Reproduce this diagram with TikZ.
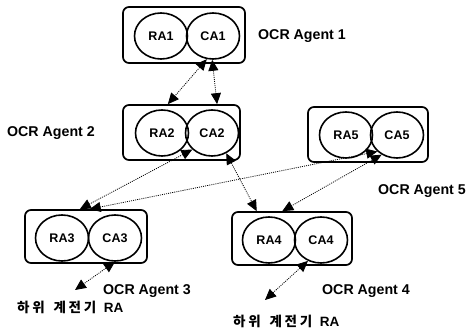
\documentclass[tikz,border=0pt]{standalone}
\usepackage{fontspec}
\setmainfont{Liberation Sans}
\newfontfamily\kofont[LetterSpace=20]{Noto Sans CJK KR}
\usetikzlibrary{arrows.meta,shapes.geometric,calc}

\tikzset{
  agentbox/.style={draw, line width=1.7pt, rounded corners=6pt, inner sep=0pt},
  agentpart/.style={draw, ellipse, line width=1.6pt, minimum width=53pt,
    minimum height=46pt, inner sep=0pt, font=\bfseries\fontsize{12.5}{15}\selectfont},
  agentlabel/.style={anchor=base west, inner sep=0pt, font=\bfseries\fontsize{14.2}{16}\selectfont},
  lowerlabel/.style={anchor=base west, inner sep=0pt, font=\bfseries\fontsize{13.5}{15}\selectfont},
  msglink/.style={line width=0.8pt, dash pattern=on 1pt off 1.1pt,
    {Triangle[length=11pt,width=10pt]}-{Triangle[length=11pt,width=10pt]}}
}

\begin{document}
\begin{tikzpicture}[x=1pt, y=-1pt]
\useasboundingbox (0,0) rectangle (467,334);

% agent frames
\node[agentbox, minimum width=122pt, minimum height=56pt] (box1) at (184,35) {};
\node[agentbox, minimum width=117pt, minimum height=55pt] (box2) at (181.5,132.5) {};
\node[agentbox, minimum width=120pt, minimum height=55pt] (box5) at (368,134.5) {};
\node[agentbox, minimum width=122pt, minimum height=53pt] (box3) at (86,236.5) {};
\node[agentbox, minimum width=120pt, minimum height=53pt] (box4) at (292,238.5) {};

% RA / CA components
\node[agentpart] (RA1) at (161,36) {RA1};
\node[agentpart] (CA1) at (213,36) {CA1};
\node[agentpart] (RA2) at (162,133) {RA2};
\node[agentpart] (CA2) at (212,133) {CA2};
\node[agentpart] (RA5) at (346,135) {RA5};
\node[agentpart] (CA5) at (397,135) {CA5};
\node[agentpart] (RA3) at (62,238) {RA3};
\node[agentpart] (CA3) at (115,238) {CA3};
\node[agentpart] (RA4) at (269,240) {RA4};
\node[agentpart] (CA4) at (321,240) {CA4};

% agent names
\node[agentlabel] (lab1) at (258,40) {OCR Agent 1};
\node[agentlabel] (lab2) at (7,137) {OCR Agent 2};
\node[agentlabel] (lab5) at (378,195) {OCR Agent 5};
\node[agentlabel] (lab3) at (103,295) {OCR Agent 3};
\node[agentlabel] (lab4) at (322,295) {OCR Agent 4};
\node[lowerlabel] (sub3) at (17,313) {{\kofont 하위\hspace{3pt} 계전기}\hspace{4pt} RA};
\node[lowerlabel] (sub4) at (233,327) {{\kofont 하위\hspace{3pt} 계전기}\hspace{4pt} RA};

% free ends towards the lower-level relay agents
\coordinate (low3) at (75,290);
\coordinate (low4) at (265,300);

% message links
\draw[msglink] (CA1.-105) -- ($(box2.north west)!0.385!(box2.north east)$);
\draw[msglink] (CA1.-92) -- ($(box2.north west)!0.80!(box2.north east)$);
\draw[msglink] (CA2.-140) -- ($(box3.north west)!0.45!(box3.north east)$);
\draw[msglink] (CA2.-55) -- ($(box4.north west)!0.21!(box4.north east)$);
\draw[msglink] (CA5.-140) -- ($(box3.north west)!0.53!(box3.north east)$);
\draw[msglink] (CA5.-128) -- ($(box4.north west)!0.42!(box4.north east)$);
\draw[msglink] (CA3.-90) -- (low3);
\draw[msglink] (CA4.-122) -- (low4);
\end{tikzpicture}
\end{document}
